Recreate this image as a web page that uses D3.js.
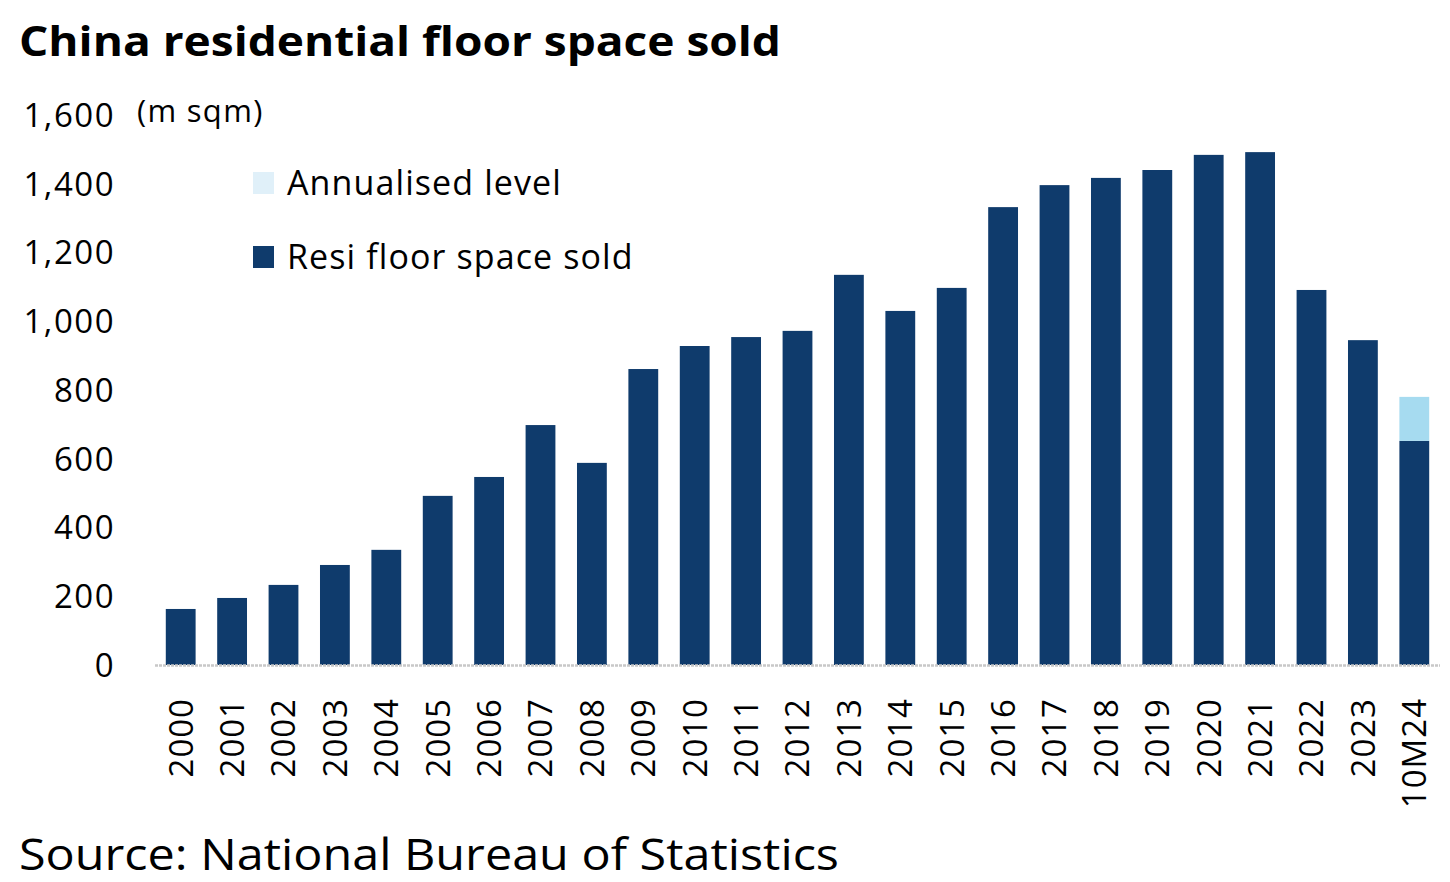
<!DOCTYPE html>
<html>
<head>
<meta charset="utf-8">
<title>China residential floor space sold</title>
<script src="https://d3js.org/d3.v7.min.js"></script>
<style>
  body { margin: 0; background: #fff; }
  text { fill: #000; }
</style>
</head>
<body>
<div id="chart"></div>
<script>
// data (m sqm)
const years = ['2000','2001','2002','2003','2004','2005','2006','2007','2008','2009','2010','2011','2012','2013','2014','2015','2016','2017','2018','2019','2020','2021','2022','2023','10M24'];
const sold = [163,195,233,291,335,492,547,698,588,861,928,954,972,1135,1030,1097,1332,1396,1417,1440,1484,1492,1091,945,652];
const annualisedExtra = [0,0,0,0,0,0,0,0,0,0,0,0,0,0,0,0,0,0,0,0,0,0,0,0,128];
const yTicks = [0,200,400,600,800,1000,1200,1400,1600];

const W = 1450, H = 882;
const dark = '#0f3b6c', light = '#a6dbf0', lightLegend = '#e0f0f9';
const axisFont = "'Open Sans', 'Noto Sans', sans-serif";

const svg = d3.select('#chart').append('svg')
  .attr('width', W).attr('height', H);

const x = d3.scaleBand().domain(years).range([155, 1440]).paddingInner(0.42).paddingOuter(0.21);
const y = d3.scaleLinear().domain([0, 1600]).range([665, 115]);

// title + source
svg.append('text').attr('x', 19).attr('y', 56)
  .style('font-family', "'Open Sans', sans-serif").style('font-weight', 700)
  .style('font-size', '41px').attr('textLength', 762).attr('lengthAdjust', 'spacingAndGlyphs')
  .text('China residential floor space sold');
svg.append('text').attr('x', 19).attr('y', 870)
  .style('font-family', "'Open Sans', sans-serif")
  .style('font-size', '44px').attr('textLength', 820).attr('lengthAdjust', 'spacingAndGlyphs')
  .text('Source: National Bureau of Statistics');

// y axis labels
svg.append('g').selectAll('text').data(yTicks).join('text')
  .attr('x', 115).attr('y', d => y(d)).attr('dy', '0.36em')
  .attr('text-anchor', 'end')
  .style('font-family', axisFont).style('font-size', '33px').style('letter-spacing', '1.5px')
  .text(d => d3.format(',')(d));

svg.append('text').attr('x', 137).attr('y', 122)
  .style('font-family', axisFont).style('font-size', '31px').style('letter-spacing', '1.3px')
  .text('(m sqm)');

// bars
const stack = years.map((k, i) => ({ k, sold: sold[i], extra: annualisedExtra[i] }));
svg.append('g').selectAll('rect').data(stack).join('rect')
  .attr('x', d => x(d.k)).attr('width', x.bandwidth())
  .attr('y', d => y(d.sold)).attr('height', d => y(0) - y(d.sold))
  .attr('fill', dark);
svg.append('g').selectAll('rect').data(stack.filter(d => d.extra > 0)).join('rect')
  .attr('x', d => x(d.k)).attr('width', x.bandwidth())
  .attr('y', d => y(d.sold + d.extra)).attr('height', d => y(d.sold) - y(d.sold + d.extra))
  .attr('fill', light);

// baseline
svg.append('line').attr('x1', 155).attr('x2', 1440).attr('y1', y(0) + 0.5).attr('y2', y(0) + 0.5)
  .attr('stroke', '#c8c8c8').attr('stroke-width', 2.5).attr('stroke-dasharray', '3,1');

// x labels, rotated
svg.append('g').selectAll('text').data(years).join('text')
  .attr('transform', d => `translate(${x(d) + x.bandwidth() / 2},698) rotate(-90)`)
  .attr('text-anchor', 'end').attr('dy', '0.36em')
  .style('font-family', axisFont).style('font-size', '33px').style('letter-spacing', '1px')
  .text(d => d);

// legend
const legend = [['Annualised level', lightLegend, 183], ['Resi floor space sold', dark, 257]];
const lg = svg.append('g').selectAll('g').data(legend).join('g');
lg.append('rect').attr('x', 253).attr('y', d => d[2] - 11).attr('width', 21).attr('height', 22).attr('fill', d => d[1]);
lg.append('text').attr('x', 287).attr('y', d => d[2]).attr('dy', '0.36em')
  .style('font-family', axisFont).style('font-size', '34px').style('letter-spacing', '1.1px')
  .text(d => d[0]);
</script>
</body>
</html>
